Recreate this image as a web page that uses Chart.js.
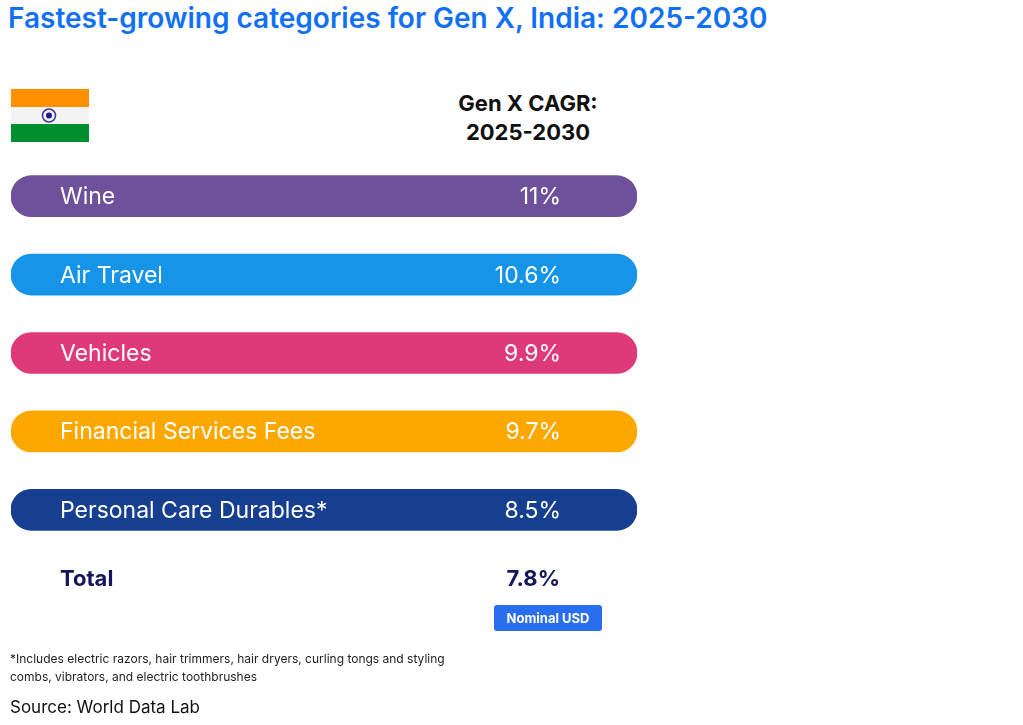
<!DOCTYPE html>
<html>
<head>
<meta charset="utf-8">
<script src="https://cdn.jsdelivr.net/npm/chart.js@4.4.1/dist/chart.umd.min.js"></script>
<style>
  body { margin: 0; background: #fff; font-family: Inter, "Noto Sans", sans-serif; }
  #wrap { position: relative; width: 1023px; height: 725px; overflow: hidden; }
  #chart { position: absolute; left: 0; top: 0; }
  .t { position: absolute; white-space: nowrap; line-height: 1; }
  #title { left: 8px; top: 4px; font-size: 28px; font-weight: 600; color: #1170f4; letter-spacing: 0px; }
  #head { left: 428px; top: 89px; width: 200px; text-align: center; font-size: 22px; font-weight: 700; color: #111; line-height: 29px; }
  #totLab { left: 60px; top: 567px; font-size: 22px; font-weight: 700; color: #15175a; }
  #totVal { left: 400px; width: 160px; text-align: right; top: 567px; font-size: 22px; font-weight: 700; color: #15175a; }
  #badge { left: 494px; top: 605px; width: 108px; height: 26px; background: #2a6ef0; color: #fff; border-radius: 3px;
           font-size: 13px; font-weight: 700; text-align: center; line-height: 26px; }
  #note { left: 10px; top: 650px; font-size: 12px; color: #222; line-height: 18px; }
  #src { left: 10px; top: 699px; font-size: 17px; color: #111; }
  #flag { position: absolute; left: 11px; top: 89px; width: 78px; height: 53px; }
</style>
</head>
<body>
<div id="wrap">
  <div class="t" id="title">Fastest-growing categories for Gen X, India: 2025-2030</div>
  <svg id="flag" viewBox="0 0 78 53">
    <rect x="0" y="0" width="78" height="18" fill="#ff9000"/>
    <rect x="0" y="18" width="78" height="17" fill="#f3f3f3"/>
    <rect x="0" y="35" width="78" height="18" fill="#008f2f"/>
    <circle cx="38" cy="26.5" r="6.5" fill="none" stroke="#3a3aa8" stroke-width="1.6"/>
    <circle cx="38" cy="26.5" r="3" fill="#1a1a8c"/>
  </svg>
  <div class="t" id="head">Gen X CAGR:<br>2025-2030</div>
  <canvas id="chart" width="1023" height="725"></canvas>
  <div class="t" id="totLab"></div>
  <div class="t" id="totVal"></div>
  <div class="t" id="badge">Nominal USD</div>
  <div class="t" id="note">*Includes electric razors, hair trimmers, hair dryers, curling tongs and styling<br>combs, vibrators, and electric toothbrushes</div>
  <div class="t" id="src">Source: World Data Lab</div>
</div>
<script>
const categories = ['Wine', 'Air Travel', 'Vehicles', 'Financial Services Fees', 'Personal Care Durables*'];
const cagrValues = [11, 10.6, 9.9, 9.7, 8.5];
const valueLabels = ['11%', '10.6%', '9.9%', '9.7%', '8.5%'];
const barColors = ['#6d519b', '#1694e8', '#de3a7a', '#fca800', '#173f8f'];
// each pill spans the whole row; the value is written inside
const rowSpan = [1, 1, 1, 1, 1];
const totalLabel = 'Total';
const totalValue = '7.8%';

document.getElementById('totLab').textContent = totalLabel;
document.getElementById('totVal').textContent = totalValue;

const pillText = {
  id: 'pillText',
  afterDatasetsDraw(chart) {
    const ctx = chart.ctx;
    const meta = chart.getDatasetMeta(0);
    const left = chart.chartArea.left;
    ctx.save();
    ctx.fillStyle = '#fff';
    ctx.font = '400 23px Inter, "Noto Sans", sans-serif';
    ctx.textBaseline = 'middle';
    meta.data.forEach((bar, i) => {
      ctx.textAlign = 'left';
      ctx.fillText(categories[i], left + 49, bar.y + 1);
      ctx.textAlign = 'right';
      ctx.fillText(valueLabels[i], left + 550, bar.y + 1);
    });
    ctx.restore();
  }
};

new Chart(document.getElementById('chart'), {
  type: 'bar',
  data: {
    labels: categories,
    datasets: [{
      data: rowSpan,
      backgroundColor: barColors,
      borderRadius: 21,
      borderSkipped: false,
      barThickness: 41
    }]
  },
  options: {
    indexAxis: 'y',
    responsive: false,
    animation: false,
    layout: { padding: { left: 11, right: 386, top: 157, bottom: 176 } },
    scales: {
      x: { display: false, min: 0, max: 1 },
      y: { display: false }
    },
    plugins: { legend: { display: false }, tooltip: { enabled: false } }
  },
  plugins: [pillText]
});
</script>
</body>
</html>
